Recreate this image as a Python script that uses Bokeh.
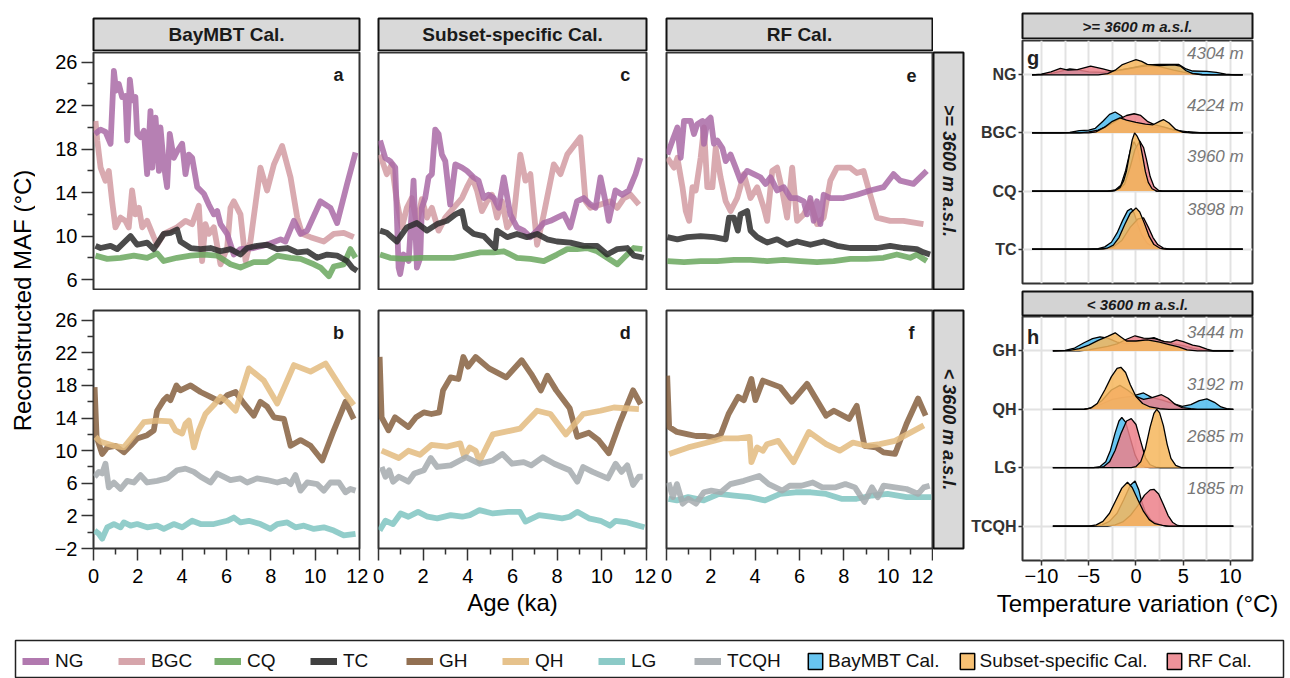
import math
from bokeh.plotting import figure
from bokeh.layouts import row, column
from bokeh.models import Range1d, FixedTicker, Label, Spacer, Legend, LegendItem, Grid
from bokeh.embed import file_html
from bokeh.resources import INLINE

FONT = "Liberation Sans"
NAN = float("nan")

# ---------------- time series data (age ka, MAF degC) ----------------
sites_high = ["NG", "BGC", "CQ", "TC"]
sites_low = ["GH", "QH", "LG", "TCQH"]
calibrations = ["BayMBT Cal.", "Subset-specific Cal.", "RF Cal."]

a_NG = [(0.06,19.4),(0.32,19.8),(0.54,19.6),(0.77,18.5),(0.92,25.2),(1.02,23.4),(1.14,24.0),(1.29,22.8),(1.44,22.9),(1.52,18.8),(1.64,24.4),(1.74,22.5),(1.89,22.8),(1.97,19.4),(2.12,19.1),(2.27,19.7),(2.42,15.7),(2.57,21.5),(2.65,16.3),(2.80,20.9),(2.95,16.0),(3.02,20.0),(3.17,16.6),(3.32,14.5),(3.44,19.4),(3.62,17.2),(3.77,17.8),(4.00,18.5),(4.15,15.7),(4.30,17.5),(4.45,17.2),(4.68,14.5),(4.98,13.9),(5.20,12.9),(5.43,12.0),(5.58,12.3),(5.73,11.1),(6.03,10.2),(6.33,8.3),(6.63,8.8),(7.23,8.9),(7.83,9.2),(8.44,9.7),(8.66,9.5),(9.04,11.4),(9.34,10.2),(9.64,10.5),(10.24,13.2),(10.69,12.6),(10.99,11.2),(11.44,14.8),(11.82,17.7)]
a_BGC = [(0.09,20.6),(0.17,18.8),(0.32,16.3),(0.54,15.1),(0.69,16.0),(0.84,13.2),(0.99,10.8),(1.22,11.7),(1.44,11.4),(1.59,10.8),(1.74,14.2),(1.89,12.0),(2.05,12.6),(2.20,10.8),(2.42,11.4),(2.72,9.9),(2.87,9.2),(3.17,10.2),(3.47,10.5),(3.77,10.8),(4.15,11.4),(4.45,11.1),(4.75,12.8),(4.90,7.7),(5.05,11.1),(5.20,10.2),(5.43,10.8),(5.73,7.4),(6.03,8.9),(6.18,12.6),(6.33,13.2),(6.63,12.0),(6.86,7.7),(7.08,9.5),(7.53,16.3),(7.83,14.2),(8.14,16.6),(8.51,18.3),(8.89,15.4),(9.19,11.7),(9.41,10.2),(9.79,9.9),(10.39,9.5),(10.84,10.2),(11.29,10.3),(11.74,9.9)]
a_CQ = [(0.09,8.2),(0.62,7.9),(1.22,8.0),(1.82,8.2),(2.42,8.0),(2.87,8.4),(3.17,7.7),(3.77,8.0),(4.38,8.2),(4.98,8.3),(5.58,8.2),(6.18,7.4),(6.63,7.1),(7.23,7.6),(7.83,7.6),(8.29,8.2),(8.89,8.0),(9.34,7.9),(9.94,7.4),(10.24,7.1),(10.62,6.3),(10.84,7.2),(11.29,7.4),(11.59,8.8),(11.82,8.0)]
a_TC = [(0.09,9.1),(0.32,8.9),(0.77,9.1),(1.07,8.8),(1.37,9.4),(1.67,10.0),(1.97,9.2),(2.42,9.4),(2.72,8.8),(3.17,10.2),(3.47,10.3),(3.77,10.6),(3.92,9.5),(4.38,8.9),(4.83,8.8),(5.28,8.9),(5.73,8.6),(6.18,8.8),(6.63,8.3),(6.93,8.9),(7.38,9.1),(7.83,9.2),(8.29,8.8),(8.74,8.9),(9.19,8.5),(9.64,8.6),(10.09,8.0),(10.54,8.3),(10.99,8.2),(11.44,7.7),(11.67,7.1),(11.89,6.8)]

c_NG = [(0.07,18.8),(0.30,17.2),(0.52,16.9),(0.75,16.3),(0.90,7.1),(0.97,6.5),(1.12,8.3),(1.35,7.7),(1.57,15.1),(1.72,7.1),(1.87,8.0),(1.94,12.6),(2.09,13.5),(2.24,15.4),(2.39,15.7),(2.54,19.8),(2.69,19.4),(2.84,17.5),(2.99,16.9),(3.21,12.9),(3.44,16.6),(3.74,16.3),(3.96,16.0),(4.26,15.4),(4.48,15.1),(4.71,13.5),(4.93,13.8),(5.16,13.5),(5.38,12.6),(5.61,15.4),(5.90,12.0),(6.20,10.8),(6.50,10.5),(6.80,9.9),(7.10,10.5),(7.40,11.2),(7.70,11.4),(7.99,11.7),(8.30,12.0),(8.59,10.8),(8.89,13.2),(9.19,13.5),(9.49,12.9),(9.72,12.6),(9.94,15.4),(10.16,13.2),(10.31,11.4),(10.61,14.2),(10.91,13.8),(11.21,14.2),(11.51,15.7),(11.73,17.2)]
c_BGC = [(0.07,17.5),(0.37,15.7),(0.60,16.6),(0.82,13.2),(1.05,10.8),(1.27,12.6),(1.49,13.5),(1.72,11.1),(1.94,13.4),(2.17,11.7),(2.39,12.6),(2.69,10.5),(2.99,11.7),(3.36,12.6),(3.74,13.5),(3.96,14.5),(4.19,15.4),(4.41,14.2),(4.63,12.3),(4.86,13.2),(5.08,13.8),(5.31,11.7),(5.53,13.2),(5.76,10.8),(6.05,11.7),(6.35,17.5),(6.58,15.1),(6.80,15.7),(7.10,9.2),(7.40,12.0),(7.85,16.6),(8.15,15.7),(8.45,17.5),(9.04,19.1),(9.27,13.2),(9.49,12.6),(9.94,12.9),(10.39,13.2),(10.69,12.6),(10.99,13.5),(11.29,13.8),(11.66,12.9)]
c_CQ = [(0.07,8.3),(0.52,8.0),(1.12,7.9),(1.87,8.0),(2.62,8.0),(3.36,8.0),(4.11,8.3),(4.56,8.5),(5.16,8.5),(5.61,8.6),(6.20,8.0),(6.80,7.9),(7.40,7.7),(7.99,8.3),(8.45,8.8),(8.89,8.8),(9.34,8.9),(9.79,8.6),(10.24,8.0),(10.69,7.4),(10.99,8.0),(11.43,8.9),(11.81,8.8)]
c_TC = [(0.07,10.5),(0.37,10.3),(0.82,9.5),(1.27,10.8),(1.72,11.2),(2.17,10.5),(2.62,11.1),(3.06,11.4),(3.44,12.0),(3.74,12.3),(3.89,10.8),(4.26,10.2),(4.71,10.0),(5.23,8.9),(5.31,10.5),(5.76,9.9),(6.20,10.2),(6.65,9.9),(7.10,10.2),(7.55,9.7),(7.99,9.5),(8.59,9.4),(9.19,9.1),(9.79,9.1),(10.24,8.3),(10.69,8.8),(11.14,8.9),(11.43,8.2),(11.88,8.0)]

e_NG = [(0.04,17.5),(0.27,18.8),(0.49,20.0),(0.64,17.2),(0.79,20.6),(1.09,20.6),(1.24,19.4),(1.39,20.3),(1.62,20.6),(1.69,18.5),(1.84,20.6),(1.99,20.9),(2.14,18.5),(2.29,18.8),(2.52,18.1),(2.67,16.9),(2.89,17.5),(3.12,16.3),(3.34,15.1),(3.64,16.0),(3.94,15.7),(4.24,15.4),(4.47,14.8),(4.69,15.4),(4.99,14.2),(5.29,14.5),(5.59,13.5),(5.89,13.5),(6.19,13.2),(6.34,12.0),(6.49,13.5),(6.64,11.4),(6.79,13.2),(6.94,11.1),(7.09,13.8),(7.39,13.5),(7.99,13.5),(8.59,13.8),(9.19,14.2),(9.79,14.5),(10.24,15.7),(10.54,15.1),(11.14,14.8),(11.74,16.0)]
e_BGC = [(0.04,17.2),(0.34,16.3),(0.49,17.2),(0.72,14.5),(0.87,12.3),(1.02,11.4),(1.17,14.5),(1.32,14.2),(1.54,17.2),(1.69,20.0),(1.84,14.5),(2.07,14.5),(2.22,18.1),(2.44,15.4),(2.67,13.2),(2.89,12.3),(3.19,13.5),(3.49,15.7),(3.79,13.5),(4.09,14.5),(4.39,12.6),(4.54,11.4),(4.77,16.0),(4.99,16.3),(5.22,14.2),(5.44,11.7),(5.67,16.3),(5.89,11.4),(6.19,12.0),(6.49,13.2),(6.79,11.1),(7.09,11.7),(7.39,15.1),(7.69,16.3),(8.29,16.3),(8.59,15.8),(8.89,16.0),(9.19,13.8),(9.49,11.7),(10.09,11.4),(10.69,11.4),(11.59,11.1)]
e_CQ = [(0.04,7.7),(0.79,7.6),(1.54,7.7),(2.29,7.7),(3.04,7.8),(3.79,7.8),(4.54,7.7),(5.29,7.8),(6.04,7.7),(6.79,7.6),(7.54,7.7),(8.29,7.9),(9.04,7.9),(9.79,8.0),(10.39,8.3),(10.99,8.0),(11.29,8.3),(11.74,7.7)]
e_TC = [(0.04,9.9),(0.49,9.7),(0.94,9.9),(1.54,10.0),(2.14,9.9),(2.67,9.7),(2.82,11.7),(3.04,11.7),(3.22,10.5),(3.34,12.0),(3.64,12.3),(3.79,10.5),(4.09,9.9),(4.54,9.4),(4.99,9.7),(5.44,9.2),(5.89,9.5),(6.49,9.2),(7.09,9.5),(7.69,9.1),(8.29,8.9),(8.89,8.9),(9.49,8.9),(10.09,9.1),(10.69,8.9),(11.29,8.8),(11.59,8.5),(11.89,8.3)]

b_GH = [(0.05,17.8),(0.14,11.7),(0.39,9.6),(0.62,10.4),(0.99,10.6),(1.37,9.8),(1.67,10.6),(1.97,11.5),(2.42,11.9),(2.72,12.5),(2.87,14.9),(3.17,16.2),(3.32,16.6),(3.47,16.2),(3.74,18.0),(3.92,17.4),(4.38,18.0),(4.83,17.2),(5.28,16.6),(5.73,16.0),(6.03,16.8),(6.41,17.2),(6.78,15.8),(7.23,14.3),(7.53,16.0),(7.83,15.4),(8.14,14.1),(8.59,13.9),(8.89,10.6),(9.34,11.3),(9.79,10.6),(10.32,8.8),(10.84,12.5),(11.37,16.0),(11.74,13.9)]
b_QH = [(0.09,11.7),(0.32,11.1),(0.92,10.6),(1.37,10.4),(1.82,11.9),(2.27,13.5),(2.87,13.7),(3.47,13.6),(3.70,12.5),(4.00,12.1),(4.15,13.3),(4.30,13.7),(4.53,10.4),(4.75,12.5),(5.05,14.5),(5.43,15.6),(5.73,16.6),(6.03,16.0),(6.41,14.9),(7.01,20.1),(7.68,18.6),(8.29,15.8),(9.04,20.5),(9.79,19.7),(10.47,20.7),(11.29,17.2),(11.74,15.6)]
b_LG = [(0.05,0.2),(0.24,-0.2),(0.39,-0.8),(0.62,0.6),(0.92,1.0),(1.22,0.6),(1.37,1.2),(1.67,0.8),(1.97,1.0),(2.42,0.6),(2.87,0.8),(3.17,0.4),(3.62,1.0),(4.00,0.6),(4.45,1.4),(4.83,1.0),(5.43,1.0),(6.03,1.4),(6.33,1.8),(6.63,1.2),(7.01,1.4),(7.53,1.0),(7.98,0.4),(8.29,1.0),(8.74,1.2),(9.11,0.6),(9.49,0.8),(9.94,0.4),(10.39,0.6),(10.84,0.2),(11.29,-0.4),(11.82,-0.2)]
b_TCQH = [(0.05,6.8),(0.24,7.4),(0.39,7.2),(0.54,8.4),(0.69,5.5),(0.92,6.1),(1.22,5.3),(1.52,6.3),(1.82,6.1),(2.12,7.0),(2.42,6.1),(2.87,6.3),(3.32,6.6),(3.77,7.6),(4.15,7.8),(4.53,7.4),(4.83,6.8),(5.28,6.1),(5.58,7.2),(6.18,6.4),(6.63,6.6),(6.93,6.1),(7.38,6.6),(7.83,6.4),(8.29,6.1),(8.66,6.4),(8.89,5.9),(9.11,7.0),(9.34,5.1),(9.64,6.1),(10.09,5.9),(10.39,5.1),(10.69,6.1),(11.07,6.1),(11.37,4.9),(11.59,5.3),(11.82,5.1)]

d_GH = [(0.05,21.5),(0.14,14.1),(0.45,12.5),(0.74,14.1),(1.34,12.9),(1.68,14.1),(2.03,14.7),(2.37,14.5),(2.72,14.7),(2.89,17.4),(3.23,19.0),(3.58,18.8),(3.80,21.5),(4.01,20.3),(4.35,21.5),(4.95,20.1),(5.72,19.0),(6.41,21.1),(6.84,19.4),(7.27,17.4),(7.56,19.2),(7.96,17.4),(8.56,15.2),(8.90,11.7),(9.42,12.2),(9.85,11.3),(10.31,9.7),(10.80,13.4),(11.40,17.4),(11.74,15.7)]
d_QH = [(0.14,10.0),(0.91,9.1),(1.34,10.0),(1.86,9.5),(2.37,10.7),(3.06,10.5),(3.66,10.9),(3.83,9.3),(4.09,10.4),(4.35,10.0),(4.52,8.7),(5.12,12.0),(6.33,12.7),(7.10,14.9),(7.70,14.5),(8.39,12.0),(9.16,14.5),(9.94,14.9),(10.54,15.3),(11.66,15.1)]
d_LG = [(0.05,0.2),(0.31,1.4),(0.65,1.0),(0.99,2.3),(1.34,1.9),(1.77,2.5),(2.20,1.9),(2.63,1.7),(3.23,2.1),(3.75,1.9),(4.09,2.1),(4.52,2.7),(5.12,2.3),(5.81,2.5),(6.33,2.5),(6.58,1.3),(7.19,2.1),(7.70,1.9),(8.22,1.7),(8.56,1.9),(8.90,2.5),(9.42,1.7),(9.94,1.4),(10.37,0.8),(10.62,1.4),(11.14,1.2),(11.66,0.8),(11.91,0.6)]
d_TCQH = [(0.14,8.0),(0.31,6.8),(0.48,7.6),(0.65,6.2),(0.91,6.8),(1.34,6.2),(1.60,7.2),(2.03,7.6),(2.34,9.1),(2.63,8.0),(3.23,8.2),(3.92,9.2),(4.52,8.4),(5.12,8.8),(5.55,9.6),(5.98,8.4),(6.50,8.6),(6.84,8.2),(7.36,9.2),(7.87,8.4),(8.56,7.6),(8.90,6.2),(9.16,8.0),(9.59,7.4),(10.27,6.6),(10.62,8.4),(10.88,7.4),(11.14,8.2),(11.40,5.8),(11.66,6.8),(11.83,6.8)]

f_GH = [(0.03,19.2),(0.12,12.9),(0.47,12.3),(0.98,12.0),(1.33,11.8),(1.76,11.8),(2.19,11.6),(2.45,12.0),(2.80,14.5),(3.23,16.6),(3.49,16.2),(3.83,18.8),(4.01,16.2),(4.35,18.6),(5.13,17.8),(5.65,16.0),(6.34,18.2),(7.20,14.3),(7.55,14.9),(8.24,13.9),(8.58,15.5),(8.93,10.6),(9.45,10.4),(9.79,9.8),(10.31,9.6),(10.83,13.3),(11.35,16.4),(11.69,14.3)]
f_QH = [(0.12,9.6),(0.98,10.4),(1.85,11.0),(2.54,11.5),(3.23,11.5),(3.75,11.7),(3.83,8.6),(4.09,10.4),(4.35,10.0),(4.53,10.8),(5.04,11.2),(5.73,8.6),(6.42,12.3),(7.20,10.8),(7.81,10.0),(8.41,11.0),(9.02,10.6),(9.62,10.8),(10.31,11.2),(11.61,13.1)]
f_LG = [(0.09,4.1),(0.47,3.9),(0.98,4.3),(1.68,3.9),(2.37,4.7),(3.06,4.5),(3.75,4.3),(4.44,3.9),(5.13,4.7),(5.82,4.9),(6.51,4.9),(7.20,4.7),(7.89,4.1),(8.58,4.1),(9.27,4.5),(9.97,4.7),(10.83,4.3),(11.52,4.3),(11.95,4.3)]
f_TCQH = [(0.09,6.1),(0.29,4.3),(0.47,5.9),(0.73,3.5),(0.98,4.1),(1.33,3.5),(1.68,4.9),(2.02,5.1),(2.45,4.9),(2.88,5.9),(3.49,6.3),(4.18,6.9),(4.61,5.9),(5.22,5.1),(5.56,5.7),(6.08,5.7),(6.60,6.1),(7.03,5.5),(7.63,5.5),(8.07,5.9),(8.50,5.5),(8.93,3.7),(9.27,5.5),(9.53,4.3),(9.79,5.7),(10.31,5.5),(10.83,5.3),(11.35,4.7),(11.61,5.5),(11.87,5.7)]

# ---------------- ridge densities (temperature variation degC, scaled density) ----------------
NG_bay = [(-11,0),(-10,0.005),(-9,0.02),(-8,0.06),(-7,0.10),(-6.3,0.09),(-5,0.05),(-3.5,0.04),(-2,0.07),(-0.5,0.12),(1,0.17),(2.5,0.18),(4.5,0.18),(5.3,0.10),(6,0.065),(7.5,0.06),(8.5,0.04),(9.5,0.01),(10.5,0),(11.3,0)]
NG_sub = [(-11,0),(-4,0),(-3,0.02),(-2.2,0.08),(-1.5,0.17),(-0.7,0.22),(0,0.26),(0.6,0.23),(1.2,0.18),(2.5,0.16),(4,0.17),(4.7,0.15),(5.3,0.07),(6,0.02),(7,0),(11.3,0)]
NG_rf = [(-11,0),(-10,0.01),(-9,0.05),(-8,0.11),(-7.2,0.08),(-6.2,0.09),(-4.8,0.15),(-3.5,0.10),(-2.5,0.06),(-1,0.10),(0.5,0.14),(1.5,0.16),(2.5,0.14),(4,0.08),(5.5,0.03),(7,0.005),(8,0),(11.3,0)]
BGC_bay = [(-11,0),(-8,0),(-7,0.01),(-6,0.04),(-5,0.05),(-4.3,0.08),(-3.5,0.20),(-2.8,0.32),(-2.2,0.36),(-1.6,0.30),(-1,0.20),(0,0.14),(1.5,0.10),(3,0.09),(4.5,0.04),(5.5,0.02),(7,0),(11.3,0)]
BGC_sub = [(-11,0),(-5,0),(-4.2,0.02),(-3.3,0.10),(-2.5,0.20),(-1.7,0.26),(-1,0.22),(0,0.18),(1,0.15),(1.8,0.14),(2.5,0.20),(2.9,0.23),(3.5,0.17),(4.2,0.06),(5,0.01),(6,0),(11.3,0)]
BGC_rf = [(-11,0),(-6,0),(-5,0.02),(-4,0.05),(-3,0.12),(-2,0.22),(-1,0.30),(-0.2,0.33),(0.5,0.30),(1.2,0.20),(2,0.14),(3,0.10),(4,0.05),(5,0.02),(6,0),(11.3,0)]
CQ_bay = [(-11,0),(-3,0),(-2.2,0.02),(-1.6,0.10),(-1.1,0.35),(-0.6,0.70),(-0.2,0.85),(0.2,0.70),(0.6,0.40),(1.0,0.16),(1.5,0.04),(2.2,0),(11.3,0)]
CQ_sub = [(-11,0),(-3,0),(-2.2,0.01),(-1.7,0.06),(-1.3,0.18),(-1.0,0.35),(-0.7,0.62),(-0.4,0.88),(-0.15,1.0),(0.1,0.95),(0.4,0.85),(0.7,0.60),(1.0,0.33),(1.3,0.15),(1.7,0.04),(2.2,0),(11.3,0)]
CQ_rf = [(-11,0),(-2.5,0),(-1.8,0.03),(-1.2,0.12),(-0.6,0.42),(-0.1,0.72),(0.4,0.86),(0.8,0.75),(1.1,0.55),(1.5,0.25),(1.9,0.08),(2.4,0.01),(2.8,0),(11.3,0)]
TC_bay = [(-11,0),(-5,0),(-4,0.01),(-3.3,0.04),(-2.6,0.12),(-2.0,0.28),(-1.4,0.50),(-0.9,0.66),(-0.5,0.70),(-0.2,0.62),(0.2,0.42),(0.6,0.25),(1.2,0.10),(2,0.03),(3,0),(11.3,0)]
TC_sub = [(-11,0),(-4,0),(-3,0.02),(-2.4,0.07),(-1.8,0.20),(-1.2,0.42),(-0.6,0.62),(0,0.71),(0.4,0.64),(0.9,0.44),(1.4,0.22),(1.9,0.08),(2.5,0.02),(3.2,0),(11.3,0)]
TC_rf = [(-11,0),(-3.5,0),(-2.5,0.03),(-1.5,0.15),(-0.6,0.38),(0.2,0.52),(0.8,0.54),(1.3,0.38),(1.8,0.20),(2.3,0.08),(2.9,0.02),(3.6,0),(11.3,0)]

GH_bay = [(-8.8,0),(-7.5,0.01),(-6.5,0.05),(-5.5,0.14),(-4.6,0.21),(-3.8,0.24),(-3,0.22),(-2,0.15),(-1,0.12),(0,0.15),(1,0.20),(1.9,0.23),(2.8,0.17),(4,0.12),(5,0.09),(6,0.05),(7,0.02),(8,0),(10.3,0)]
GH_sub = [(-8.8,0),(-7,0.01),(-6,0.04),(-5,0.10),(-4,0.18),(-3,0.25),(-2.2,0.31),(-1.6,0.24),(-1,0.17),(0,0.17),(1.2,0.19),(2.5,0.15),(3.5,0.11),(4.5,0.07),(5.4,0.02),(6.5,0),(10.3,0)]
GH_rf = [(-8.8,0),(-6,0),(-5,0.02),(-4,0.05),(-3,0.08),(-2,0.12),(-1,0.20),(-0.1,0.26),(0.8,0.22),(2,0.21),(3,0.16),(3.7,0.15),(4.3,0.19),(5,0.16),(6,0.10),(6.7,0.08),(7.5,0.03),(8.2,0),(10.3,0)]
QH_bay = [(-8.8,0),(-5.5,0),(-4.5,0.03),(-3.5,0.10),(-2.5,0.17),(-1.5,0.20),(-0.5,0.22),(0.8,0.28),(1.7,0.20),(2.7,0.16),(3.7,0.11),(4.9,0.05),(5.8,0.08),(6.7,0.15),(7.5,0.18),(8.3,0.12),(9,0.04),(9.6,0.01),(10.3,0)]
QH_sub = [(-8.8,0),(-5.5,0),(-4.8,0.02),(-4.1,0.10),(-3.3,0.33),(-2.6,0.56),(-2.0,0.70),(-1.6,0.72),(-1.1,0.63),(-0.6,0.42),(0,0.22),(0.7,0.10),(1.5,0.04),(2.5,0.01),(3.5,0),(10.3,0)]
QH_rf = [(-8.8,0),(-5.5,0),(-4.6,0.03),(-3.6,0.15),(-2.6,0.33),(-1.7,0.41),(-0.9,0.33),(0,0.22),(0.8,0.17),(1.7,0.20),(2.7,0.25),(3.4,0.19),(4.1,0.09),(4.9,0.03),(5.8,0.01),(6.5,0),(10.3,0)]
LG_bay = [(-8.8,0),(-4.5,0),(-3.8,0.02),(-3.2,0.10),(-2.7,0.30),(-2.2,0.60),(-1.8,0.80),(-1.5,0.86),(-1.1,0.78),(-0.6,0.50),(-0.1,0.22),(0.4,0.06),(1,0.01),(1.5,0),(10.3,0)]
LG_sub = [(-8.8,0),(-0.5,0),(0,0.02),(0.5,0.10),(1.0,0.33),(1.5,0.70),(1.9,0.93),(2.2,1.0),(2.5,0.94),(2.9,0.72),(3.3,0.40),(3.7,0.16),(4.2,0.04),(4.8,0),(10.3,0)]
LG_rf = [(-8.8,0),(-4,0),(-3.4,0.02),(-2.8,0.10),(-2.2,0.30),(-1.6,0.58),(-1.0,0.80),(-0.5,0.84),(0,0.74),(0.5,0.45),(1.0,0.17),(1.5,0.05),(2.1,0.01),(2.6,0),(10.3,0)]
TCQH_bay = [(-8.8,0),(-4.5,0),(-3.6,0.02),(-2.8,0.08),(-2,0.22),(-1.3,0.45),(-0.6,0.70),(-0.1,0.77),(0.3,0.62),(0.6,0.42),(1.0,0.24),(1.6,0.10),(2.4,0.03),(3.2,0),(10.3,0)]
TCQH_sub = [(-8.8,0),(-5,0),(-4.2,0.02),(-3.5,0.08),(-2.8,0.22),(-2.1,0.45),(-1.5,0.65),(-0.9,0.75),(-0.4,0.66),(0.2,0.45),(0.8,0.25),(1.4,0.11),(2,0.04),(2.8,0.01),(3.5,0),(10.3,0)]
TCQH_rf = [(-8.8,0),(-3,0),(-2.2,0.02),(-1.4,0.07),(-0.6,0.18),(0.2,0.35),(0.9,0.53),(1.5,0.62),(1.9,0.63),(2.4,0.55),(2.9,0.37),(3.4,0.18),(3.9,0.06),(4.4,0.01),(5,0),(10.3,0)]

elev_high = ["4304 m", "4224 m", "3960 m", "3898 m"]
elev_low = ["3444 m", "3192 m", "2685 m", "1885 m"]

line_colors = {"NG": "#a96aa6", "BGC": "#d29ba2", "CQ": "#6aa75e", "TC": "#2b2b2b",
               "GH": "#86603f", "QH": "#e3bb7f", "LG": "#7fc4c1", "TCQH": "#a4aaae"}
cal_colors = {"BayMBT Cal.": "#4dbbee", "Subset-specific Cal.": "#f6b65c", "RF Cal.": "#ec8089"}

# ---------------- helpers ----------------
def style_axis(ax, size="20px", tick_out=12, minor_out=6, standoff=4):
    ax.axis_line_color = None
    ax.major_tick_line_color = "#333333"
    ax.major_tick_line_width = 1.5
    ax.minor_tick_line_color = "#333333"
    ax.minor_tick_line_width = 1.5
    ax.major_tick_out = tick_out
    ax.major_tick_in = 0
    ax.minor_tick_out = minor_out
    ax.minor_tick_in = 0
    ax.major_label_text_font = FONT
    ax.major_label_text_font_size = size
    ax.major_label_text_color = "black"
    ax.major_label_standoff = standoff
    ax.axis_label_text_font = FONT
    ax.axis_label_text_font_size = "24px"
    ax.axis_label_text_font_style = "normal"
    ax.axis_label_text_color = "black"


def blank_fig(w, h, bl, br, bt, bb, xr=(0, 1), yr=(0, 1)):
    p = figure(width=w, height=h, x_range=Range1d(*xr), y_range=Range1d(*yr),
               x_axis_location=None, y_axis_location=None,
               toolbar_location=None, output_backend="svg",
               min_border_left=bl, min_border_right=br, min_border_top=bt, min_border_bottom=bb)
    p.grid.visible = False
    p.border_fill_color = "white"
    p.background_fill_color = "white"
    p.outline_line_color = None
    return p


def strip_fig(w, h, bl, br, bt, bb, text, size, style, angle=0.0, fill="#d9d9d9"):
    p = blank_fig(w, h, bl, br, bt, bb)
    p.background_fill_color = fill
    p.outline_line_color = "#111111"
    p.outline_line_width = 2
    p.add_layout(Label(x=0.5, y=0.5, text=text, text_align="center", text_baseline="middle",
                       angle=angle, text_font=FONT, text_font_size=size,
                       text_font_style=style, text_color="#1a1a1a"))
    return p


TOP_Y = (5.08, 26.9)
BOT_Y = (-2.0, 27.2)


def ts_fig(w, h, bl, br, bt, bb, yr, yaxis, xaxis, letter, letter_y, xlabel=None, bottom=False):
    p = figure(width=w, height=h, x_range=Range1d(0, 12), y_range=Range1d(*yr),
               x_axis_location="below" if xaxis else None,
               y_axis_location="left" if yaxis else None,
               toolbar_location=None, output_backend="svg",
               min_border_left=bl, min_border_right=br, min_border_top=bt, min_border_bottom=bb)
    p.grid.visible = False
    p.border_fill_color = "white"
    p.background_fill_color = "white"
    p.outline_line_color = "#333333"
    p.outline_line_width = 2
    if xaxis:
        ax = p.xaxis[0]
        ax.ticker = FixedTicker(ticks=[0, 2, 4, 6, 8, 10, 12], minor_ticks=[1, 3, 5, 7, 9, 11])
        style_axis(ax, standoff=8)
        if xlabel:
            ax.axis_label = xlabel
            ax.axis_label_standoff = 3
    if yaxis:
        ax = p.yaxis[0]
        if bottom:
            ax.ticker = FixedTicker(ticks=[-2, 2, 6, 10, 14, 18, 22, 26], minor_ticks=[0, 4, 8, 12, 16, 20, 24])
            ax.major_label_overrides = {-2: "\u22122"}
        else:
            ax.ticker = FixedTicker(ticks=[6, 10, 14, 18, 22, 26], minor_ticks=[8, 12, 16, 20, 24])
        style_axis(ax)
    p.add_layout(Label(x=11.05, y=letter_y, text=letter, text_align="center", text_baseline="middle",
                       text_font=FONT, text_font_size="18px", text_font_style="bold", text_color="#1a1a1a"))
    return p


def draw_series(p, names, series):
    for i in range(len(names)):
        pts = series[i]
        p.line([t for t, v in pts], [v for t, v in pts], line_color=line_colors[names[i]],
               line_width=5.8, line_alpha=0.85, line_join="round")


# ---------------- left block ----------------
HDR_H = 51
TOP_H = 239
BOT_H = 340

hdr_a = strip_fig(333, HDR_H, 58, 9, 18, 1, "BayMBT Cal.", "19px", "bold")
hdr_c = strip_fig(288, HDR_H, 10, 10, 18, 1, "Subset-specific Cal.", "19px", "bold")
hdr_e = strip_fig(277, HDR_H, 10, 1, 18, 1, "RF Cal.", "19px", "bold")

pa = ts_fig(333, TOP_H, 58, 9, 1, 1, TOP_Y, True, False, "a", 24.8)
pc = ts_fig(288, TOP_H, 10, 10, 1, 1, TOP_Y, False, False, "c", 24.8)
pe = ts_fig(277, TOP_H, 10, 1, 1, 1, TOP_Y, False, False, "e", 24.8)
draw_series(pa, ["BGC", "NG", "CQ", "TC"], [a_BGC, a_NG, a_CQ, a_TC])
draw_series(pc, ["BGC", "NG", "CQ", "TC"], [c_BGC, c_NG, c_CQ, c_TC])
draw_series(pe, ["BGC", "NG", "CQ", "TC"], [e_BGC, e_NG, e_CQ, e_TC])
strip_top = strip_fig(32, TOP_H, 0, 2, 1, 1, ">= 3600 m a.s.l.", "18px", "bold italic", angle=-math.pi / 2)

pb = ts_fig(333, BOT_H, 58, 9, 20, 82, BOT_Y, True, True, "b", 24.4, bottom=True)
pd = ts_fig(288, BOT_H, 10, 10, 20, 82, BOT_Y, False, True, "d", 24.4, xlabel="Age (ka)")
pf = ts_fig(277, BOT_H, 10, 1, 20, 82, BOT_Y, False, True, "f", 24.4)
draw_series(pb, ["GH", "QH", "LG", "TCQH"], [b_GH, b_QH, b_LG, b_TCQH])
draw_series(pd, ["GH", "QH", "LG", "TCQH"], [d_GH, d_QH, d_LG, d_TCQH])
draw_series(pf, ["GH", "QH", "LG", "TCQH"], [f_GH, f_QH, f_LG, f_TCQH])
strip_bot = strip_fig(32, BOT_H, 0, 2, 20, 82, "< 3600 m a.s.l.", "18px", "bold italic", angle=-math.pi / 2)

ylab_h = TOP_H + BOT_H
ylab = blank_fig(35, ylab_h, 0, 0, 0, 0, xr=(0, 35), yr=(0, ylab_h))
ylab.add_layout(Label(x=22, y=ylab_h - 249, text="Reconstructed MAF (\u00b0C)", angle=math.pi / 2,
                      text_align="center", text_baseline="middle", text_font=FONT,
                      text_font_size="24px", text_color="black"))

left = column(
    row(Spacer(width=35, height=HDR_H), hdr_a, hdr_c, hdr_e, Spacer(width=32, height=HDR_H)),
    row(ylab, column(row(pa, pc, pe, strip_top), row(pb, pd, pf, strip_bot))),
)

# ---------------- right block (ridgelines) ----------------
RX = (-12.01, 12.33)
RY = (0.41, 4.59)


def ridge_fig(h, bt, bb, names, curves, elev, elev_y, letter, letter_y, xaxis):
    p = figure(width=325, height=h, x_range=Range1d(*RX), y_range=Range1d(*RY),
               x_axis_location="below" if xaxis else None, y_axis_location="left",
               toolbar_location=None, output_backend="svg",
               min_border_left=57, min_border_right=38, min_border_top=bt, min_border_bottom=bb)
    p.grid.visible = False
    p.border_fill_color = "white"
    p.background_fill_color = "white"
    p.outline_line_color = "#333333"
    p.outline_line_width = 2
    p.add_layout(Grid(dimension=0, ticker=FixedTicker(ticks=[-10, -7.5, -5, -2.5, 0, 2.5, 5, 7.5, 10]),
                      grid_line_color="#e2e2e2", grid_line_width=2))
    p.add_layout(Grid(dimension=1, ticker=FixedTicker(ticks=[1, 2, 3, 4]),
                      grid_line_color="#e2e2e2", grid_line_width=2))
    ay = p.yaxis[0]
    ay.ticker = FixedTicker(ticks=[1, 2, 3, 4], minor_ticks=[])
    ay.major_label_overrides = {4: names[0], 3: names[1], 2: names[2], 1: names[3]}
    style_axis(ay, size="16px", tick_out=4, minor_out=0, standoff=2)
    ay.major_label_text_font_style = "bold"
    ay.major_label_text_color = "#333333"
    if xaxis:
        ax = p.xaxis[0]
        ax.ticker = FixedTicker(ticks=[-10, -5, 0, 5, 10], minor_ticks=[])
        ax.major_label_overrides = {-10: "\u221210", -5: "\u22125"}
        style_axis(ax, tick_out=5, minor_out=0, standoff=3)
        ax.axis_label = "Temperature variation (\u00b0C)"
        ax.axis_label_standoff = 4
    for i, site_curves in enumerate(curves):
        base = 4 - i
        for cal in ["BayMBT Cal.", "RF Cal.", "Subset-specific Cal."]:
            knots = site_curves[cal]
            xs = [k[0] for k in knots]
            ys = [base + k[1] for k in knots]
            p.varea(x=xs, y1=[base] * len(xs), y2=ys, fill_color=cal_colors[cal], fill_alpha=0.85)
            p.line(xs, ys, line_color="black", line_width=1.3)
        p.add_layout(Label(x=11.4, y=elev_y[i], text=elev[i], text_align="right", text_baseline="middle",
                           text_font=FONT, text_font_size="17px", text_font_style="italic",
                           text_color="#777777"))
    p.add_layout(Label(x=-10.9, y=letter_y, text=letter, text_align="center", text_baseline="middle",
                       text_font=FONT, text_font_size="20px", text_font_style="bold", text_color="#222222"))
    return p


curves_high = [
    {"BayMBT Cal.": NG_bay, "Subset-specific Cal.": NG_sub, "RF Cal.": NG_rf},
    {"BayMBT Cal.": BGC_bay, "Subset-specific Cal.": BGC_sub, "RF Cal.": BGC_rf},
    {"BayMBT Cal.": CQ_bay, "Subset-specific Cal.": CQ_sub, "RF Cal.": CQ_rf},
    {"BayMBT Cal.": TC_bay, "Subset-specific Cal.": TC_sub, "RF Cal.": TC_rf},
]
curves_low = [
    {"BayMBT Cal.": GH_bay, "Subset-specific Cal.": GH_sub, "RF Cal.": GH_rf},
    {"BayMBT Cal.": QH_bay, "Subset-specific Cal.": QH_sub, "RF Cal.": QH_rf},
    {"BayMBT Cal.": LG_bay, "Subset-specific Cal.": LG_sub, "RF Cal.": LG_rf},
    {"BayMBT Cal.": TCQH_bay, "Subset-specific Cal.": TCQH_sub, "RF Cal.": TCQH_rf},
]

hdr_g = strip_fig(325, 39, 57, 38, 13, 1, ">= 3600 m a.s.l.", "15px", "bold italic", fill="#d3d3d3")
pg = ridge_fig(250, 1, 6, sites_high, curves_high, elev_high, [4.36, 3.47, 2.59, 1.68], "g", 4.29, False)
hdr_h = strip_fig(325, 27, 57, 38, 2, 0, "< 3600 m a.s.l.", "15px", "bold italic", fill="#d3d3d3")
ph = ridge_fig(314, 0, 70, sites_low, curves_low, elev_low, [4.31, 3.43, 2.54, 1.65], "h", 4.24, True)

right = column(hdr_g, pg, hdr_h, ph)

# ---------------- legend ----------------
leg = blank_fig(1290, 48, 15, 7, 10, 0)
leg.outline_line_color = "#222222"
leg.outline_line_width = 1.5
line_items = []
for s in sites_high + sites_low:
    # renderer without visible data: only its style is used by the legend
    r = leg.line(x=[NAN, NAN], y=[NAN, NAN], line_color=line_colors[s], line_width=7, line_alpha=0.9)
    line_items.append(LegendItem(label=s, renderers=[r]))
fill_items = []
for cal in calibrations:
    r = leg.quad(left=[NAN], right=[NAN], top=[NAN], bottom=[NAN], fill_color=cal_colors[cal],
                 fill_alpha=0.85, line_color="black", line_width=1.5)
    fill_items.append(LegendItem(label=cal, renderers=[r]))

leg1 = Legend(items=line_items, orientation="horizontal", location=(7, 6),
              glyph_width=27, glyph_height=20, label_standoff=6, label_width=50, spacing=13,
              padding=0, margin=0, border_line_color=None, background_fill_alpha=0,
              label_text_font=FONT, label_text_font_size="19px", label_text_color="#111111")
leg2 = Legend(items=fill_items, orientation="horizontal", location=(791, 6),
              glyph_width=18, glyph_height=20, label_standoff=4, spacing=18,
              padding=0, margin=0, border_line_color=None, background_fill_alpha=0,
              label_text_font=FONT, label_text_font_size="19px", label_text_color="#111111")
leg.add_layout(leg1)
leg.add_layout(leg2)

page = column(row(left, right), leg)

open("out.html", "w").write(file_html(page, INLINE))
